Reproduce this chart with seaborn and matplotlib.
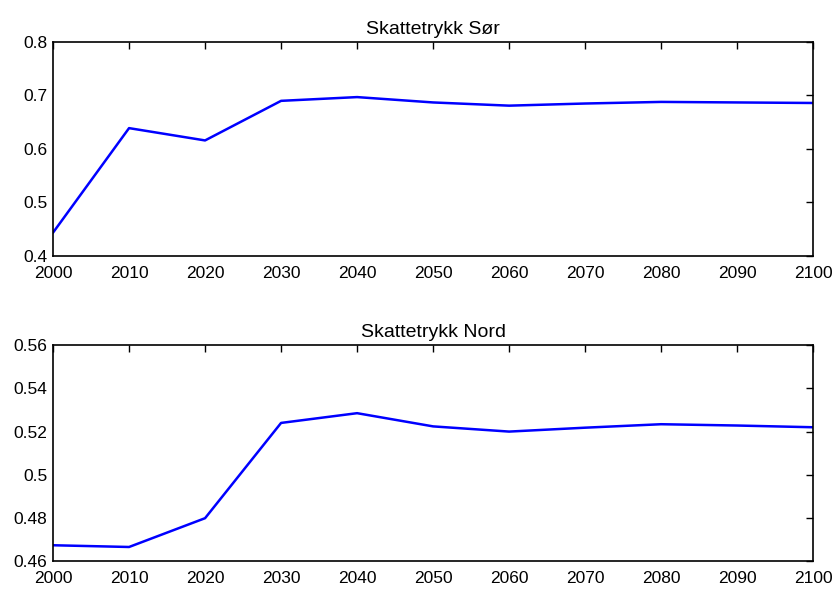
import matplotlib
matplotlib.use("Agg")
import matplotlib.pyplot as plt
import seaborn as sns
import pandas as pd

years = [2000, 2010, 2020, 2030, 2040, 2050, 2060, 2070, 2080, 2090, 2100]
sor = [0.4437, 0.639, 0.616, 0.690, 0.697, 0.687, 0.681, 0.685, 0.688, 0.687, 0.686]
nord = [0.4675, 0.4667, 0.480, 0.524, 0.5285, 0.5224, 0.5200, 0.5218, 0.5234, 0.5228, 0.5220]
titles = ["Skattetrykk Sør", "Skattetrykk Nord"]

sns.set_style("white")
plt.rcParams['font.family'] = ['Liberation Sans', 'DejaVu Sans']
plt.rcParams['text.color'] = 'black'

fig = plt.figure(figsize=(8.34, 5.89), dpi=100)
ax1 = fig.add_axes([0.0636, 0.5654, 0.9114, 0.3633])
ax2 = fig.add_axes([0.0636, 0.0467, 0.9114, 0.3676])

specs = [
    (ax1, sor, titles[0], (0.4, 0.8), [0.4, 0.5, 0.6, 0.7, 0.8], ["0.4", "0.5", "0.6", "0.7", "0.8"]),
    (ax2, nord, titles[1], (0.46, 0.56), [0.46, 0.48, 0.5, 0.52, 0.54, 0.56],
     ["0.46", "0.48", "0.5", "0.52", "0.54", "0.56"]),
]

for ax, vals, title, ylim, yt, ytl in specs:
    df = pd.DataFrame({"year": years, "value": vals})
    sns.lineplot(data=df, x="year", y="value", ax=ax, color=(0, 0, 1), linewidth=1.8)
    ax.set_xlim(2000, 2100)
    ax.set_ylim(*ylim)
    ax.set_xticks(years)
    ax.set_xticklabels([str(y) for y in years])
    ax.set_yticks(yt)
    ax.set_yticklabels(ytl)
    ax.set_xlabel("")
    ax.set_ylabel("")
    ax.set_title(title, fontsize=14, pad=6, color="black")
    ax.tick_params(direction="in", length=5, width=1, top=True, right=True,
                   labelsize=12.5, color="black", labelcolor="black")
    ax.tick_params(axis="x", pad=7)
    ax.tick_params(axis="y", pad=4)
    for s in ax.spines.values():
        s.set_visible(True)
        s.set_color("black")
        s.set_linewidth(1.2)

fig.savefig("out.png", dpi=100)
